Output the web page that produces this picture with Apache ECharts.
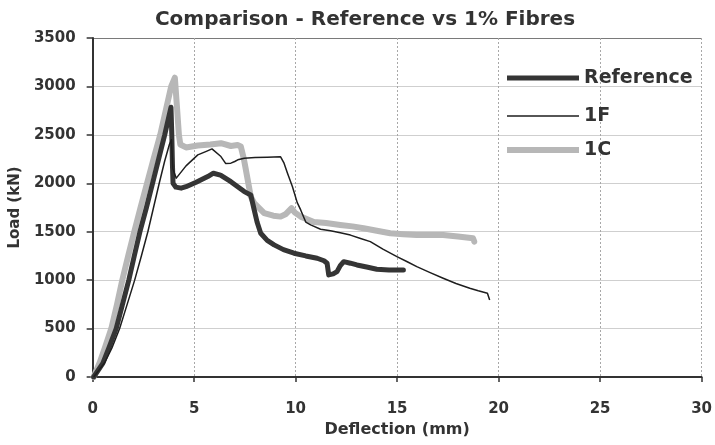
<!DOCTYPE html>
<html>
<head>
<meta charset="utf-8">
<script src="https://cdn.jsdelivr.net/npm/echarts@6/dist/echarts.min.js"></script>
<style>html,body{margin:0;padding:0;background:#fff;}#chart{width:715px;height:445px;}</style>
</head>
<body>
<div id="chart"></div>
<script>
var titleText = 'Comparison - Reference vs 1% Fibres';
var xName = 'Deflection (mm)';
var yName = 'Load (kN)';
var seriesNames = ['Reference', '1F', '1C'];

// [deflection (mm), load (kN)]
var referenceData = [[0.05,0],[0.5,140],[0.8,300],[1.16,500],[1.47,750],[1.78,1000],[2.05,1250],[2.33,1500],[2.65,1750],[2.95,2000],[3.25,2250],[3.55,2500],[3.86,2785],[3.9,2500],[3.93,2200],[3.96,2000],[4.1,1960],[4.36,1950],[4.6,1965],[5.1,2010],[5.67,2069],[5.95,2104],[6.3,2085],[6.81,2017],[7.47,1914],[7.79,1880],[7.96,1725],[8.1,1600],[8.28,1484],[8.6,1410],[8.94,1364],[9.4,1315],[9.92,1278],[10.5,1250],[11.06,1226],[11.4,1200],[11.55,1175],[11.63,1054],[11.85,1065],[12.04,1088],[12.2,1150],[12.37,1191],[12.7,1175],[13.02,1157],[13.5,1135],[14.0,1113],[14.6,1105],[15.31,1105]];

var f1Data = [[0.05,0],[0.6,150],[0.95,300],[1.33,500],[1.7,750],[2.07,1000],[2.4,1250],[2.72,1500],[3.0,1750],[3.28,2000],[3.55,2230],[3.78,2400],[3.88,2450],[3.95,2150],[4.12,2053],[4.6,2180],[5.18,2293],[5.6,2330],[5.88,2355],[6.32,2276],[6.55,2205],[6.81,2208],[7.0,2225],[7.15,2242],[7.47,2259],[8.0,2265],[8.6,2270],[9.26,2273],[9.43,2208],[9.6,2104],[9.84,1966],[10.08,1800],[10.25,1725],[10.5,1600],[10.74,1570],[11.23,1525],[11.72,1510],[12.2,1490],[12.7,1465],[13.2,1430],[13.68,1398],[14.3,1320],[14.99,1243],[15.5,1190],[15.97,1139],[16.6,1080],[17.27,1020],[17.9,965],[18.58,916],[19.0,890],[19.45,865],[19.56,795]];

var c1Data = [[0.05,0],[0.35,150],[0.6,300],[0.92,500],[1.2,750],[1.46,1000],[1.75,1250],[2.05,1500],[2.36,1750],[2.68,2000],[3.0,2250],[3.33,2500],[3.6,2750],[3.87,3000],[4.05,3090],[4.15,2800],[4.25,2500],[4.32,2400],[4.6,2370],[5.18,2390],[5.8,2400],[6.32,2414],[6.81,2385],[7.14,2395],[7.3,2380],[7.45,2250],[7.55,2138],[7.79,1862],[7.96,1794],[8.45,1691],[8.9,1665],[9.26,1656],[9.5,1680],[9.8,1743],[9.95,1700],[10.25,1656],[10.9,1600],[11.5,1590],[12.2,1570],[12.8,1555],[13.35,1536],[14.0,1510],[14.66,1484],[15.3,1475],[15.97,1467],[16.6,1465],[17.27,1467],[18.0,1450],[18.74,1433],[18.8,1398]];

var xMin = 0, xMax = 30, xStep = 5;
var yMin = 0, yMax = 3500, yStep = 500;

var FONT = 'DejaVu Sans';
var TXT = '#333333';
var refColor = '#353535', f1Color = '#1e1e1e', c1Color = '#b7b7b7';

function legendFor(name, centerY, thick, color) {
  return {
    data: [name], left: 507, top: centerY - 8.5, orient: 'vertical',
    itemWidth: 72, itemHeight: thick, itemGap: 0, padding: 0,
    icon: 'rect',
    itemStyle: {color: color, borderWidth: 0},
    textStyle: {fontFamily: FONT, fontWeight: 'bold', fontSize: 19, color: TXT},
    selectedMode: false
  };
}

var chart = echarts.init(document.getElementById('chart'), null, {renderer: 'canvas'});
chart.setOption({
  animation: false,
  backgroundColor: '#ffffff',
  title: {
    text: titleText, left: 360, top: 5, textAlign: 'center',
    textStyle: {fontFamily: FONT, fontWeight: 'bold', fontSize: 20, color: TXT}
  },
  legend: [
    legendFor(seriesNames[0], 77, 5, refColor),
    legendFor(seriesNames[1], 115, 1.5, f1Color),
    legendFor(seriesNames[2], 149, 6, c1Color)
  ],
  grid: {left: 91, right: 12, top: 38, bottom: 68, containLabel: false},
  xAxis: {
    type: 'value', min: xMin, max: xMax, interval: xStep,
    name: xName, nameLocation: 'middle', nameGap: 45,
    nameTextStyle: {fontFamily: FONT, fontWeight: 'bold', fontSize: 16, color: TXT},
    axisLine: {onZero: false, lineStyle: {color: '#333', width: 2}},
    axisTick: {show: true, length: 5, lineStyle: {color: '#333', width: 1.5}},
    axisLabel: {margin: 25, fontFamily: FONT, fontWeight: 'bold', fontSize: 15, color: TXT,
      formatter: function (v) { return String(v); }},
    splitLine: {show: true, lineStyle: {color: '#a8a8a8', width: 1, type: [2, 2]}}
  },
  yAxis: {
    type: 'value', min: yMin, max: yMax, interval: yStep,
    name: yName, nameLocation: 'middle', nameGap: 62,
    nameTextStyle: {fontFamily: FONT, fontWeight: 'bold', fontSize: 15, color: TXT},
    axisLine: {show: true, onZero: false, lineStyle: {color: '#333', width: 2}},
    axisTick: {show: true, length: 6, lineStyle: {color: '#333', width: 1.5}},
    axisLabel: {margin: 17, fontFamily: FONT, fontWeight: 'bold', fontSize: 15, color: TXT,
      formatter: function (v) { return String(v); }},
    splitLine: {show: true, lineStyle: {color: ['#cfcfcf','#cfcfcf','#cfcfcf','#cfcfcf','#cfcfcf','#cfcfcf','#cfcfcf','#7a7a7a'], width: 1}}
  },
  series: [
    {name: seriesNames[2], type: 'line', data: c1Data, showSymbol: false, symbol: 'none', z: 2,
     lineStyle: {color: c1Color, width: 6, join: 'round', cap: 'round'}, itemStyle: {color: c1Color}},
    {name: seriesNames[0], type: 'line', data: referenceData, showSymbol: false, symbol: 'none', z: 3,
     lineStyle: {color: refColor, width: 5, join: 'round', cap: 'round'}, itemStyle: {color: refColor}},
    {name: seriesNames[1], type: 'line', data: f1Data, showSymbol: false, symbol: 'none', z: 4,
     lineStyle: {color: f1Color, width: 1.5, join: 'round'}, itemStyle: {color: f1Color}}
  ]
});
</script>
</body>
</html>
